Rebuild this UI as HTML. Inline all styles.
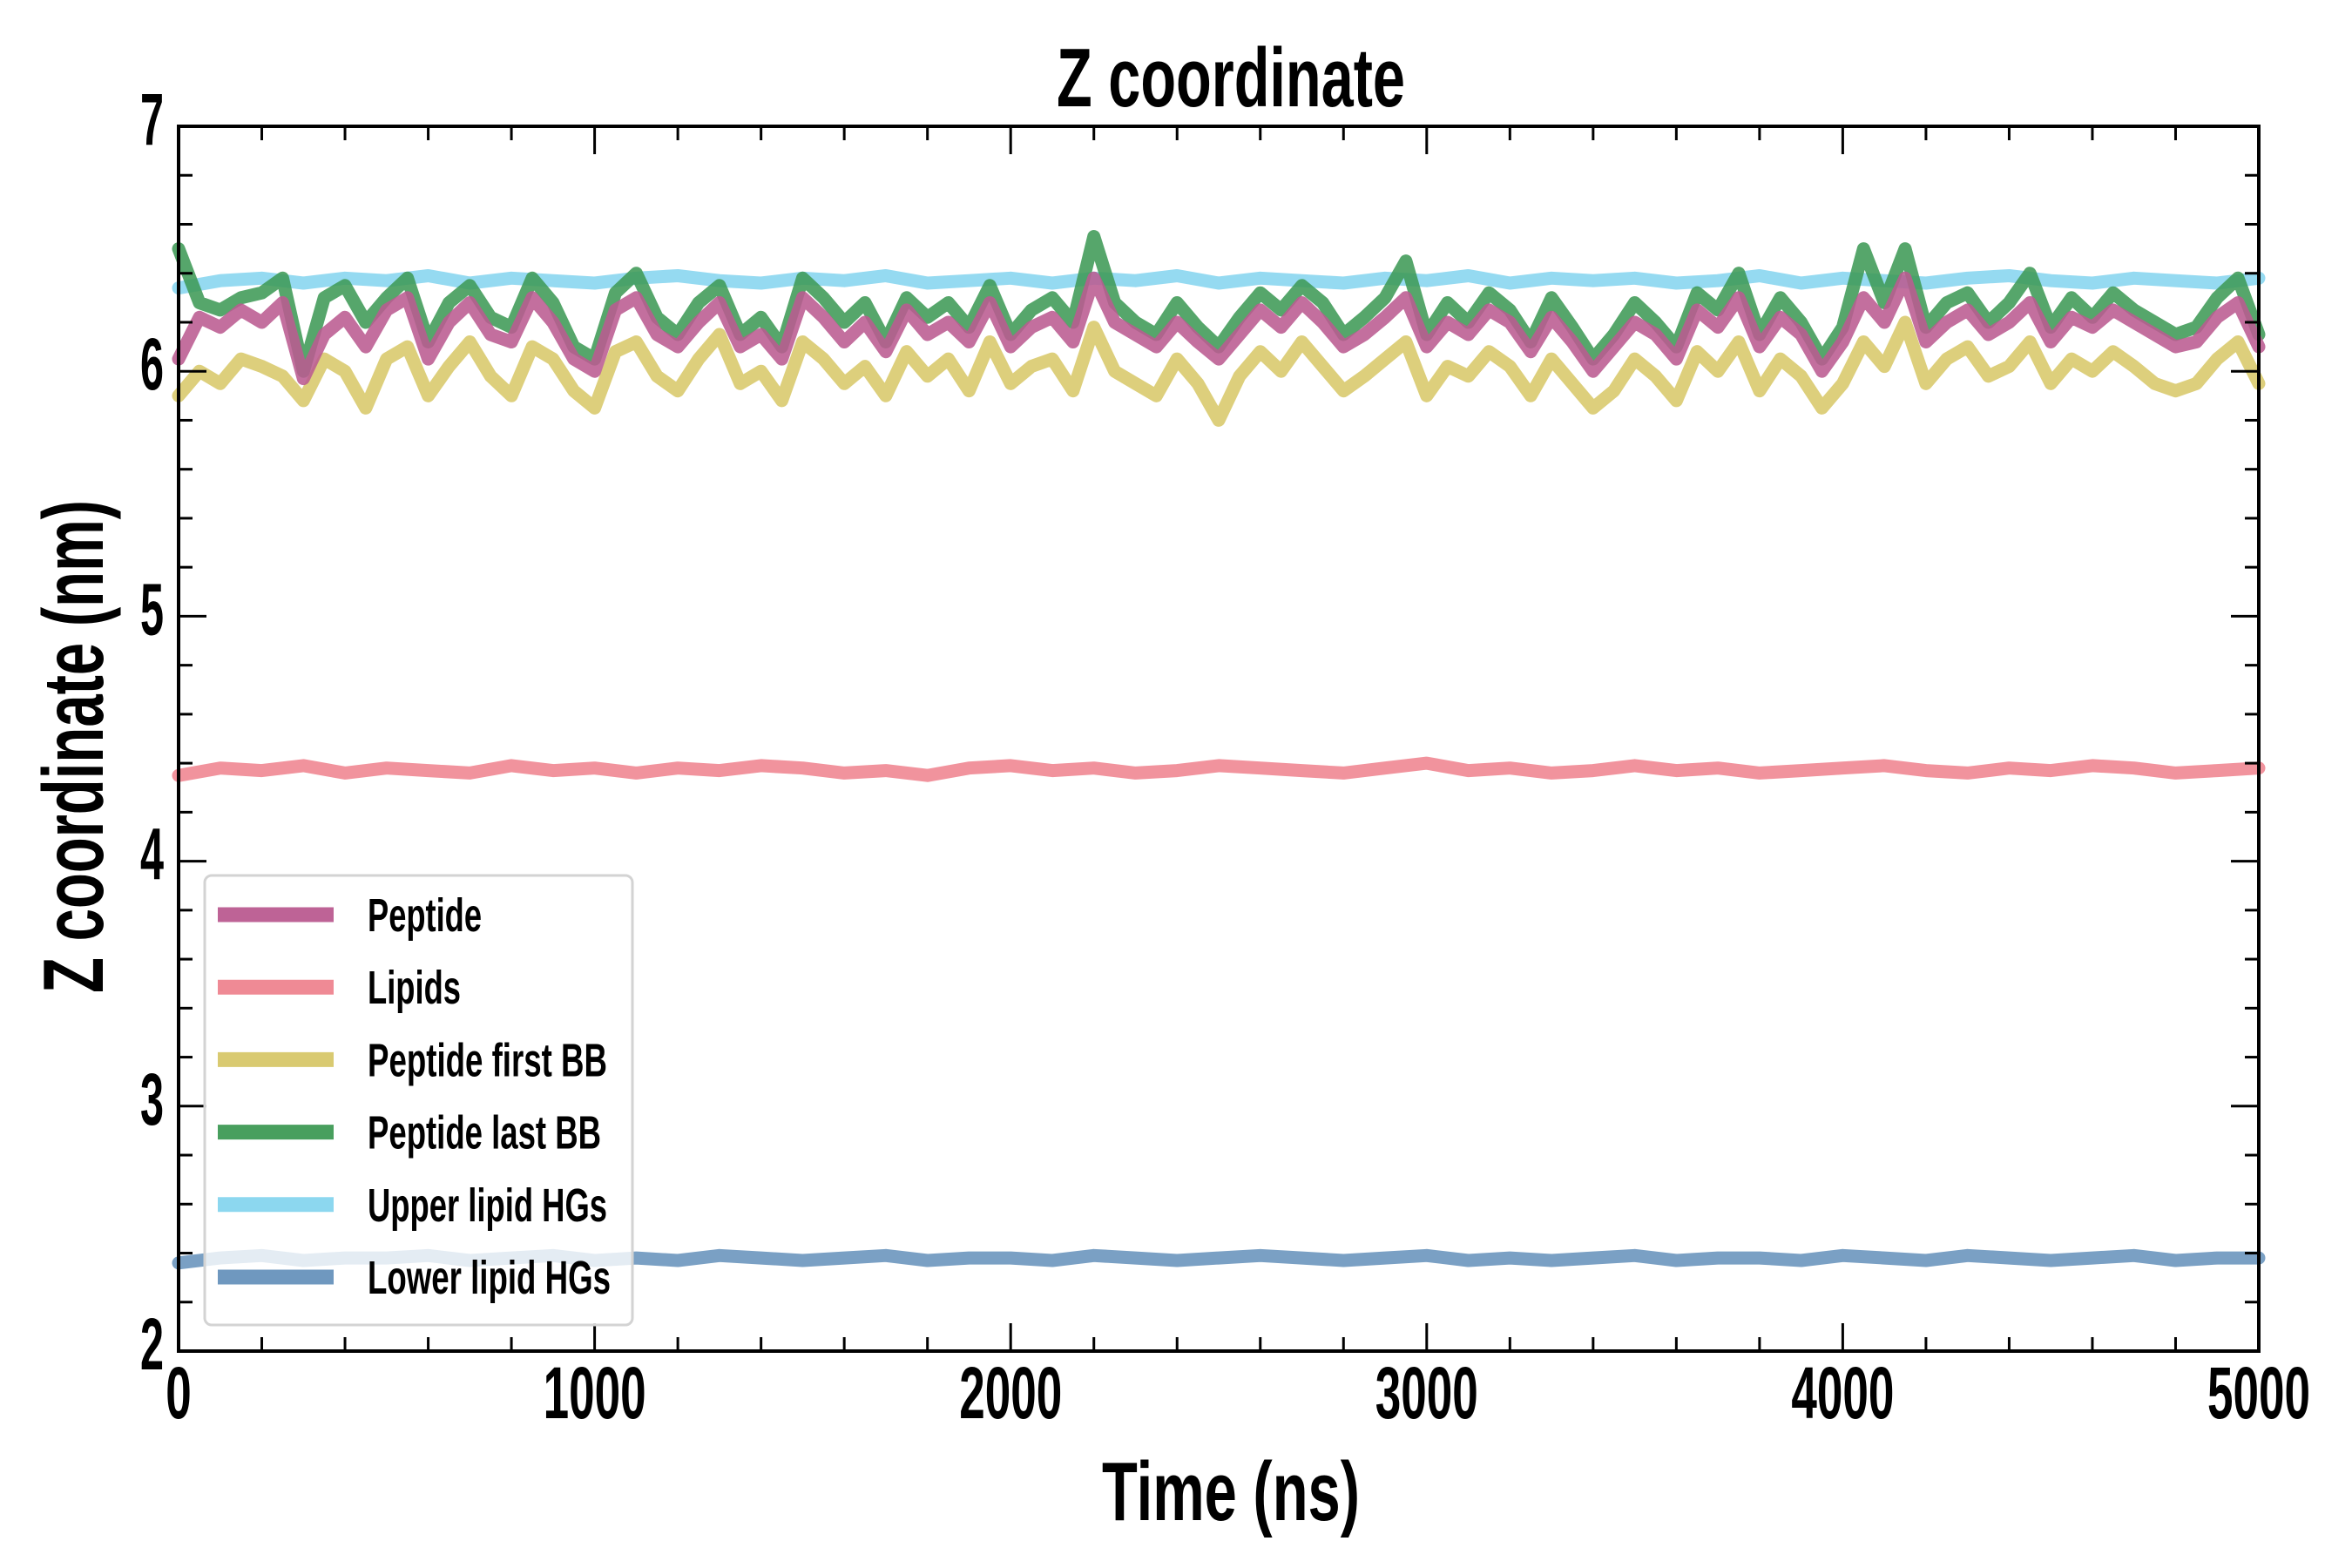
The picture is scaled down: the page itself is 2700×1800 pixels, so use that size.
<!DOCTYPE html>
<html><head><meta charset="utf-8"><style>
html,body{margin:0;padding:0;background:#fff;}
svg{display:block;}
text{font-family:"Liberation Sans Narrow","Liberation Sans",sans-serif;font-weight:bold;fill:#000;}
</style></head><body>
<svg id="chart" width="2700" height="1800" xmlns="http://www.w3.org/2000/svg">
<g id="plot"></g>
<g id="axes"></g>
<g id="legend"></g>
</svg>
<script>
const xTicks = [0,1000,2000,3000,4000,5000];
const xTickLabels = ["0","1000","2000","3000","4000","5000"];
const yTicks = [2,3,4,5,6,7];
const yTickLabels = ["2","3","4","5","6","7"];
const seriesNames = ["Peptide","Lipids","Peptide first BB","Peptide last BB","Upper lipid HGs","Lower lipid HGs"];
const timeMax = 5000;
const peptide = [6.05,6.22,6.18,6.25,6.2,6.28,5.97,6.15,6.22,6.1,6.25,6.3,6.05,6.2,6.28,6.15,6.12,6.3,6.2,6.05,6.0,6.25,6.3,6.15,6.1,6.2,6.28,6.1,6.15,6.05,6.3,6.22,6.12,6.2,6.08,6.25,6.15,6.2,6.12,6.28,6.1,6.18,6.22,6.12,6.38,6.2,6.15,6.1,6.2,6.12,6.05,6.15,6.25,6.18,6.28,6.2,6.1,6.15,6.22,6.3,6.1,6.2,6.15,6.25,6.2,6.08,6.22,6.12,6.0,6.1,6.2,6.15,6.05,6.25,6.18,6.3,6.1,6.22,6.15,6.0,6.12,6.3,6.2,6.38,6.12,6.2,6.25,6.15,6.2,6.28,6.12,6.22,6.18,6.25,6.2,6.15,6.1,6.12,6.22,6.28,6.1];
const lipids = [4.35,4.38,4.37,4.39,4.36,4.38,4.37,4.36,4.39,4.37,4.38,4.36,4.38,4.37,4.39,4.38,4.36,4.37,4.35,4.38,4.39,4.37,4.38,4.36,4.37,4.39,4.38,4.37,4.36,4.38,4.4,4.37,4.38,4.36,4.37,4.39,4.37,4.38,4.36,4.37,4.38,4.39,4.37,4.36,4.38,4.37,4.39,4.38,4.36,4.37,4.38];
const firstBB = [5.9,6.0,5.95,6.05,6.02,5.98,5.88,6.05,6.0,5.85,6.05,6.1,5.9,6.02,6.12,5.98,5.9,6.1,6.05,5.92,5.85,6.08,6.12,5.98,5.92,6.05,6.15,5.95,6.0,5.88,6.12,6.05,5.95,6.02,5.9,6.08,5.98,6.05,5.92,6.12,5.95,6.02,6.05,5.92,6.18,6.0,5.95,5.9,6.05,5.95,5.8,5.98,6.08,6.0,6.12,6.02,5.92,5.98,6.05,6.12,5.9,6.02,5.98,6.08,6.02,5.9,6.05,5.95,5.85,5.92,6.05,5.98,5.88,6.08,6.0,6.12,5.92,6.05,5.98,5.85,5.95,6.12,6.02,6.2,5.95,6.05,6.1,5.98,6.02,6.12,5.95,6.05,6.0,6.08,6.02,5.95,5.92,5.95,6.05,6.12,5.95];
const lastBB = [6.5,6.28,6.25,6.3,6.32,6.38,6.0,6.3,6.35,6.2,6.3,6.38,6.12,6.28,6.35,6.22,6.18,6.38,6.28,6.1,6.05,6.32,6.4,6.22,6.15,6.28,6.35,6.15,6.22,6.1,6.38,6.3,6.2,6.28,6.12,6.3,6.22,6.28,6.18,6.35,6.15,6.25,6.3,6.2,6.55,6.28,6.2,6.15,6.28,6.18,6.1,6.22,6.32,6.25,6.35,6.28,6.15,6.22,6.3,6.45,6.15,6.28,6.2,6.32,6.25,6.12,6.3,6.18,6.05,6.15,6.28,6.2,6.1,6.32,6.25,6.4,6.15,6.3,6.2,6.05,6.18,6.5,6.28,6.5,6.18,6.28,6.32,6.2,6.28,6.4,6.18,6.3,6.22,6.32,6.25,6.2,6.15,6.18,6.3,6.38,6.15];
const upperHG = [6.34,6.37,6.38,6.36,6.38,6.37,6.39,6.36,6.38,6.37,6.36,6.38,6.39,6.37,6.36,6.38,6.37,6.39,6.36,6.37,6.38,6.36,6.38,6.37,6.39,6.36,6.38,6.37,6.36,6.38,6.37,6.39,6.36,6.38,6.37,6.38,6.36,6.37,6.39,6.36,6.38,6.37,6.36,6.38,6.39,6.37,6.36,6.38,6.37,6.36,6.38];
const lowerHG = [2.36,2.38,2.39,2.37,2.38,2.38,2.39,2.37,2.38,2.39,2.37,2.38,2.37,2.39,2.38,2.37,2.38,2.39,2.37,2.38,2.38,2.37,2.39,2.38,2.37,2.38,2.39,2.38,2.37,2.38,2.39,2.37,2.38,2.37,2.38,2.39,2.37,2.38,2.38,2.37,2.39,2.38,2.37,2.39,2.38,2.37,2.38,2.39,2.37,2.38,2.38];
const seriesData = [peptide, lipids, firstBB, lastBB, upperHG, lowerHG];
const colors = ["#bb5b91","#ef8490","#d8c86a","#3f9a56","#86d5ef","#6893bc"];
const drawOrder = [4,1,5,2,3,0];

const NS = "http://www.w3.org/2000/svg";
const L = 205, R = 2593, T = 145, B = 1551;
const xMin = 0, xMax = 5000, yMin = 2, yMax = 7;
function xs(v){ return L + (v - xMin) / (xMax - xMin) * (R - L); }
function ys(v){ return B - (v - yMin) / (yMax - yMin) * (B - T); }
function mk(tag, attrs, parent){ const e = document.createElementNS(NS, tag); for (const k in attrs) e.setAttribute(k, attrs[k]); parent.appendChild(e); return e; }

const plot = document.getElementById('plot');
const axes = document.getElementById('axes');
const legend = document.getElementById('legend');

drawOrder.forEach(si => {
  const arr = seriesData[si];
  const n = arr.length;
  let d = "";
  arr.forEach((v, i) => { const t = i * timeMax / (n - 1); d += (i ? "L" : "M") + xs(t).toFixed(1) + " " + ys(v).toFixed(1); });
  const p = mk('path', {d: d, fill: "none", stroke: colors[si], "stroke-width": 15, "stroke-linejoin": "round", "stroke-linecap": "round", opacity: 0.88}, plot);
  
  
});

const frame = mk('rect', {x: L, y: T, width: R - L, height: B - T, fill: "none", stroke: "#000", "stroke-width": 4}, axes);



for (let v = 0; v <= 5000; v += 200) {
  const major = v % 1000 === 0, len = major ? 32 : 16, x = xs(v);
  const t1 = mk('line', {x1: x, x2: x, y1: B, y2: B - len, stroke: "#000", "stroke-width": 3}, axes);
  
  
  const t2 = mk('line', {x1: x, x2: x, y1: T, y2: T + len, stroke: "#000", "stroke-width": 3}, axes);
  
  
}
for (let v = 2; v <= 7.0001; v += 0.2) {
  const major = Math.abs(v - Math.round(v)) < 1e-6, len = major ? 32 : 16, y = ys(v);
  const t1 = mk('line', {x1: L, x2: L + len, y1: y, y2: y, stroke: "#000", "stroke-width": 3}, axes);
  
  
  const t2 = mk('line', {x1: R, x2: R - len, y1: y, y2: y, stroke: "#000", "stroke-width": 3}, axes);
  
  
}
xTicks.forEach((v, i) => {
  const lab = xTickLabels[i];
  const t = mk('text', {x: xs(v), y: 1628, "text-anchor": "middle", "font-size": 84, textLength: 29.5 * lab.length, lengthAdjust: "spacingAndGlyphs"}, axes);
  t.textContent = lab;
  
  
});
yTicks.forEach((v, i) => {
  const lab = yTickLabels[i];
  const t = mk('text', {x: 188, y: ys(v) + 21, "text-anchor": "end", "font-size": 84, textLength: 27, lengthAdjust: "spacingAndGlyphs"}, axes);
  t.textContent = lab;
  
  
});

const title = mk('text', {x: 1413, y: 122, "text-anchor": "middle", "font-size": 96, textLength: 400, lengthAdjust: "spacingAndGlyphs"}, axes);
title.textContent = "Z coordinate";


const xt = mk('text', {x: 1413, y: 1745, "text-anchor": "middle", "font-size": 96, textLength: 296, lengthAdjust: "spacingAndGlyphs"}, axes);
xt.textContent = "Time (ns)";


const yt = mk('text', {x: 0, y: 0, "text-anchor": "middle", "font-size": 98, textLength: 566, lengthAdjust: "spacingAndGlyphs", transform: "translate(118,857) rotate(-90)"}, axes);
yt.textContent = "Z coordinate (nm)";



const lb = mk('rect', {x: 235, y: 1005, width: 491, height: 516, rx: 8, fill: "#fff", "fill-opacity": 0.8, stroke: "#d3d3d3", "stroke-width": 3}, legend);


const legendWidths = [131, 107, 275, 268, 275, 279];
seriesNames.forEach((name, i) => {
  const y = 1050 + i * 83.2;
  const g = mk('g', {}, legend);
  
  
  mk('line', {x1: 250, x2: 383, y1: y, y2: y, stroke: colors[i], "stroke-width": 17, opacity: 0.95}, g);
  const t = mk('text', {x: 422, y: y + 19, "font-size": 54, textLength: legendWidths[i], lengthAdjust: "spacingAndGlyphs"}, g);
  t.textContent = name;
});
</script>
</body></html>
